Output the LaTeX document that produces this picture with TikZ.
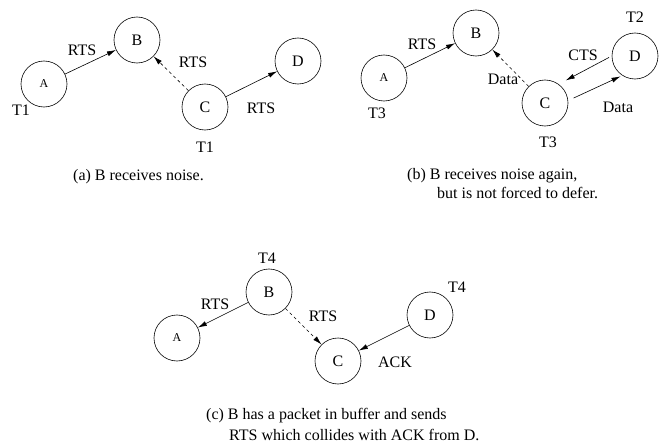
\documentclass[tikz,border=0pt]{standalone}
\usepackage{fontspec}
\setmainfont{Liberation Serif}
\usetikzlibrary{arrows.meta}
\begin{document}
\begin{tikzpicture}[x=1pt,y=-1pt]
    \useasboundingbox (0,0) rectangle (665,444);
    \begin{scope}
        \tikzstyle{every node}=[draw=black, circle, line width=0.6pt, minimum size=46pt, inner sep=0pt, font=\fontsize{16}{19}\selectfont]
        % (a)
        \node (aA) at (44,84) {\fontsize{12}{14}\selectfont A};
        \node (aB) at (137,40) {B};
        \node (aC) at (205,107) {C};
        \node (aD) at (298,61) {D};
        % (b)
        \node (bA) at (384,78) {\fontsize{12}{14}\selectfont A};
        \node (bB) at (476,33) {B};
        \node (bC) at (545,103) {C};
        \node (bD) at (635,56) {D};
        % (c)
        \node (cA) at (177,338) {\fontsize{12}{14}\selectfont A};
        \node (cB) at (269,292) {B};
        \node (cC) at (338,361) {C};
        \node (cD) at (430,315) {D};
    \end{scope}
    \begin{scope}
        \tikzstyle{every node}=[inner sep=0pt, font=\fontsize{16}{19}\selectfont]
        \node (aRTS1) at (82,50) {RTS};
        \node (aRTS2) at (193,62) {RTS};
        \node (aRTS3) at (261,108) {RTS};
        \node (aT1) at (21,110) {T1};
        \node (aT2) at (205,147) {T1};
        \node (bRTS) at (422,44) {RTS};
        \node (bT3) at (377,113) {T3};
        \node (bT2) at (635,17) {T2};
        \node (bCTS) at (583,55) {CTS};
        \node (bData1) at (503,79) {Data};
        \node (bData2) at (618,107) {Data};
        \node (bT4) at (548,142) {T3};
        \node (cT4) at (267,258) {T4};
        \node (cRTS1) at (215,304) {RTS};
        \node (cRTS2) at (323,316) {RTS};
        \node (cT5) at (457,287) {T4};
        \node (cACK) at (395,362) {ACK};
        \node[anchor=base west] (acap) at (73,180) {(a) B receives noise.};
        \node[anchor=base west] (bcap1) at (407,179) {(b) B receives noise again,};
        \node[anchor=base west] (bcap2) at (437,198) {but is not forced to defer.};
        \node[anchor=base west] (ccap1) at (206,419) {(c) B has a packet in buffer and sends};
        \node[anchor=base west] (ccap2) at (229,440) {RTS which collides with ACK from D.};
    \end{scope}
    \begin{scope}
        \tikzstyle{every edge}=[draw, line width=0.6pt, -{Latex[length=9pt,width=5pt]}]
        \path
        (aA) edge[] (aB)
        (aC) edge[dashed] (aB)
        (aC) edge[] (aD)
        (bA) edge[] (bB)
        (bC) edge[dashed] (bB)
        (bD.180) edge[shorten <=3pt, shorten >=8pt] (bC.54)
        (bC.6) edge[shorten <=6pt, shorten >=2pt] (bD.237)
        (cB) edge[] (cA)
        (cB) edge[dashed] (cC)
        (cD) edge[] (cC);
    \end{scope}
\end{tikzpicture}
\end{document}
